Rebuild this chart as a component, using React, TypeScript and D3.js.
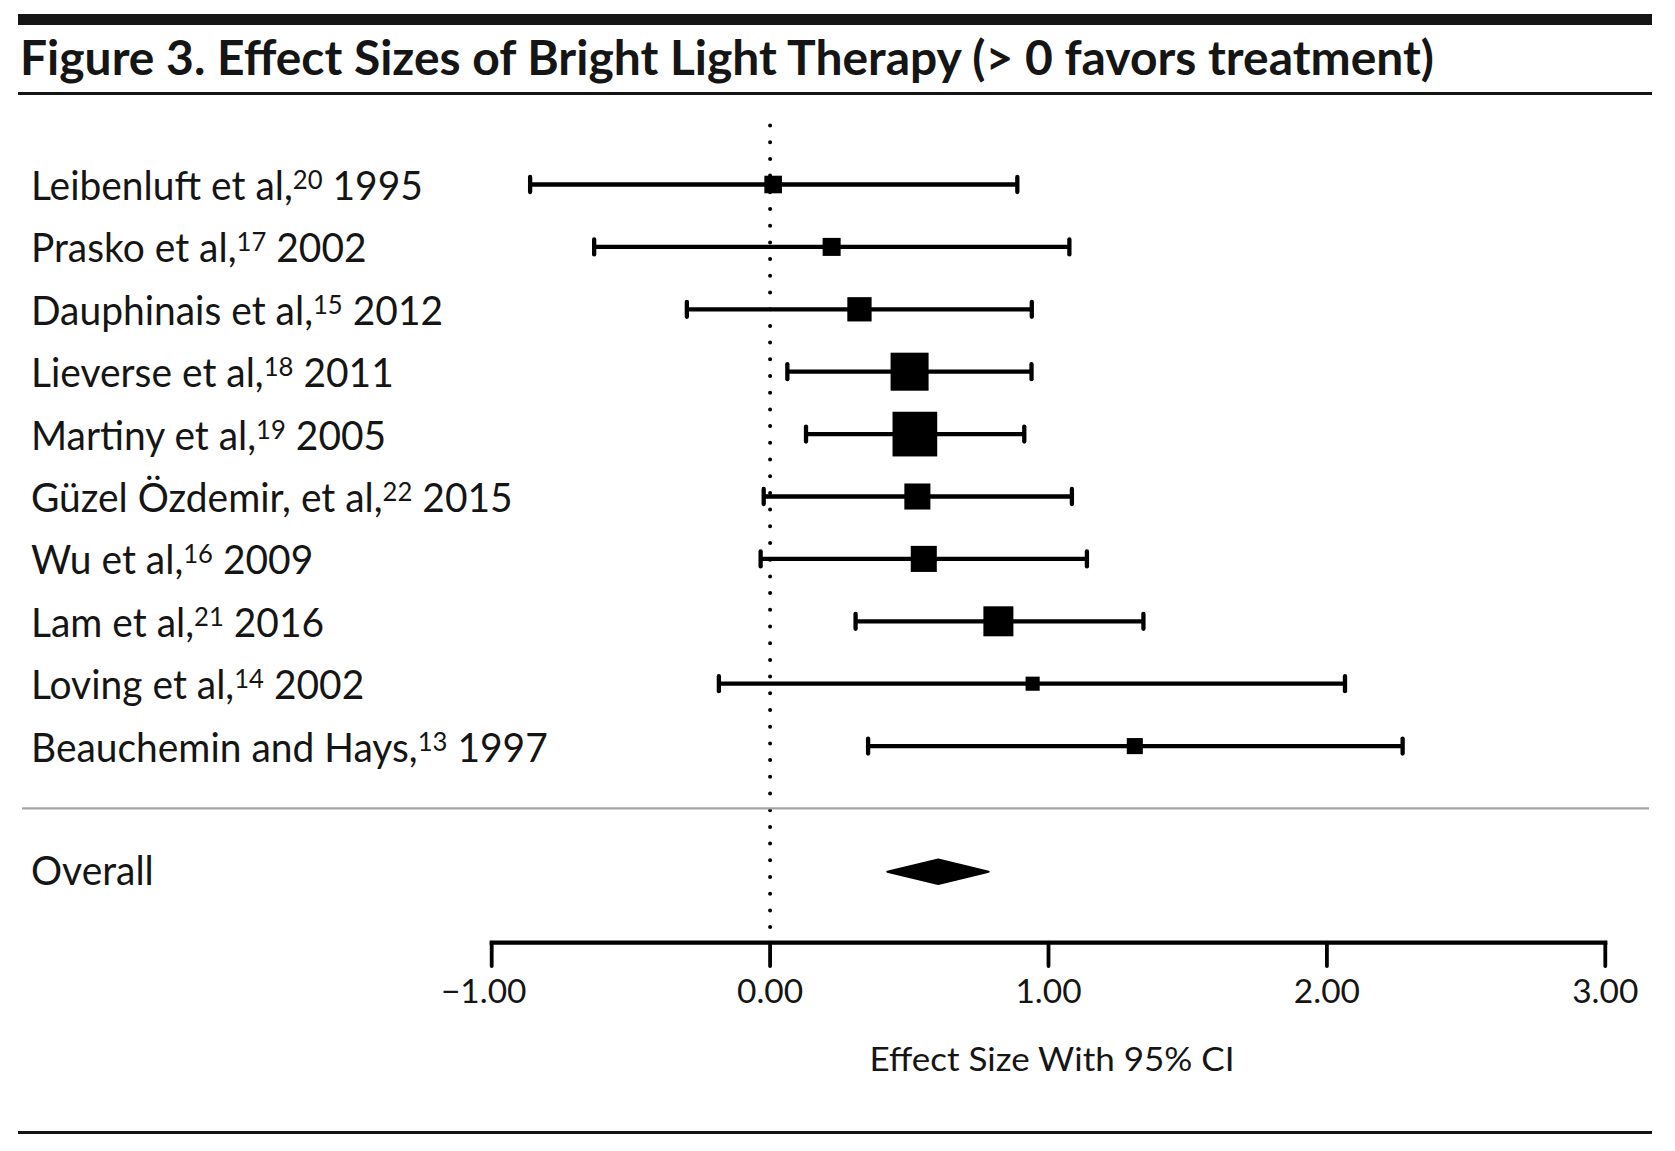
import React from 'react';
import * as d3 from 'd3';

const studyNames = [
  'Leibenluft et al,',
  'Prasko et al,',
  'Dauphinais et al,',
  'Lieverse et al,',
  'Martiny et al,',
  'Güzel Özdemir, et al,',
  'Wu et al,',
  'Lam et al,',
  'Loving et al,',
  'Beauchemin and Hays,',
];
const refNumbers = ['20', '17', '15', '18', '19', '22', '16', '21', '14', '13'];
const studyYears = ['1995', '2002', '2012', '2011', '2005', '2015', '2009', '2016', '2002', '1997'];
const effectSizes = [0.011, 0.221, 0.321, 0.501, 0.52, 0.529, 0.552, 0.82, 0.943, 1.31];
const ciLower = [-0.862, -0.632, -0.299, 0.062, 0.129, -0.023, -0.034, 0.307, -0.184, 0.352];
const ciUpper = [0.888, 1.075, 0.94, 0.939, 0.913, 1.084, 1.138, 1.341, 2.065, 2.272];
const studyWeights = [4.2, 4.4, 8.0, 19.6, 27.1, 9.2, 9.2, 12.2, 2.7, 3.5];
const overallLabel = ['Overall'];
const overallValues = [0.604]; // estimate
const overallCI = [0.421, 0.785];
const xTickValues = [-1, 0, 1, 2, 3];
const titleText = 'Figure 3. Effect Sizes of Bright Light Therapy (> 0 favors treatment)';
const xAxisTitle = 'Effect Size With 95% CI';

const W = 1675;
const H = 1151;
const FONT = 'Lato, "Noto Sans", sans-serif';
const INK = '#151515';

export default function App() {
  const x = d3.scaleLinear().domain([-1, 3]).range([491.7, 1605.3]);
  const y = d3.scaleLinear().domain([0, 9]).range([184.5, 746.1]);
  const size = d3.scaleSqrt().domain([0, d3.max(studyWeights) as number]).range([0, 44.7]);
  const overallY = 871.7;
  const diamondHalf = 12.3;
  const axisY = 942.7;
  const tickFmt = (v: number) => (v < 0 ? '\u2212' + d3.format('.2f')(-v) : d3.format('.2f')(v));

  const diamond = d3.line()([
    [x(overallCI[0]), overallY],
    [x(overallValues[0]), overallY - diamondHalf],
    [x(overallCI[1]), overallY],
    [x(overallValues[0]), overallY + diamondHalf],
  ]) + 'Z';

  const labelScale = 0.95;
  const lw = 4.3;

  return (
    <svg width={W} height={H} style={{ position: 'absolute', left: 0, top: 0, background: '#fff' }}>
      {/* top bar and title */}
      <rect x={18} y={14} width={1634} height={11} fill={INK} />
      <text x={20} y={75} fontFamily={FONT} fontWeight={700} fontSize={48} fill={INK}
        textLength={1414} lengthAdjust="spacingAndGlyphs">{titleText}</text>
      <rect x={18} y={92} width={1634} height={3} fill={INK} />

      {/* zero reference line */}
      <line x1={x(0)} x2={x(0)} y1={125.5} y2={930} stroke="#000" strokeWidth={4}
        strokeLinecap="round" strokeDasharray="0 16.7" />

      {/* study rows */}
      <g>
        {studyNames.map((name, i) => (
          <g key={i}>
            <line x1={x(ciLower[i])} x2={x(ciUpper[i])} y1={y(i)} y2={y(i)} stroke="#000" strokeWidth={lw} />
            <line x1={x(ciLower[i])} x2={x(ciLower[i])} y1={y(i) - 7.5} y2={y(i) + 7.5} stroke="#000" strokeWidth={lw} strokeLinecap="round" />
            <line x1={x(ciUpper[i])} x2={x(ciUpper[i])} y1={y(i) - 7.5} y2={y(i) + 7.5} stroke="#000" strokeWidth={lw} strokeLinecap="round" />
            <rect x={x(effectSizes[i]) - size(studyWeights[i]) / 2} y={y(i) - size(studyWeights[i]) / 2}
              width={size(studyWeights[i])} height={size(studyWeights[i])} fill="#000" />
          </g>
        ))}
      </g>

      {/* labels */}
      <g transform={`translate(31,0) scale(${labelScale},1)`}>
        {studyNames.map((name, i) => (
          <text key={i} x={0} y={y(i) + 15.5} fontFamily={FONT} fontSize={41} fill={INK}>
            {name}
            <tspan fontSize={27} dy={-11} style={{ fontVariantNumeric: 'lining-nums' }}>{refNumbers[i]}</tspan>
            <tspan dy={11}>{' ' + studyYears[i]}</tspan>
          </text>
        ))}
        <text x={0} y={overallY + 13} fontFamily={FONT} fontSize={41} fill={INK}>{overallLabel[0]}</text>
      </g>

      {/* separator */}
      <rect x={22} y={807.3} width={1627} height={2.2} fill="#a4a4a4" />

      {/* overall diamond */}
      <path d={diamond} fill="#000" stroke="#000" strokeWidth={2} strokeLinejoin="round" />

      {/* x axis */}
      <line x1={x(-1)} x2={x(3)} y1={axisY} y2={axisY} stroke="#000" strokeWidth={4.2} strokeLinecap="square" />
      {xTickValues.map((v) => (
        <g key={v}>
          <line x1={x(v)} x2={x(v)} y1={axisY} y2={966} stroke="#000" strokeWidth={3.8} strokeLinecap="round" />
          <text x={x(v) + (v < 0 ? -8 : 0)} y={1003} textAnchor="middle" fontFamily={FONT} fontSize={33.5} fill={INK}>{tickFmt(v)}</text>
        </g>
      ))}
      <text x={1052} y={1071} textAnchor="middle" fontFamily={FONT} fontSize={33.5} fill={INK}
        textLength={365} lengthAdjust="spacingAndGlyphs">{xAxisTitle}</text>

      {/* bottom rule */}
      <rect x={18} y={1131} width={1634} height={3} fill={INK} />
    </svg>
  );
}
